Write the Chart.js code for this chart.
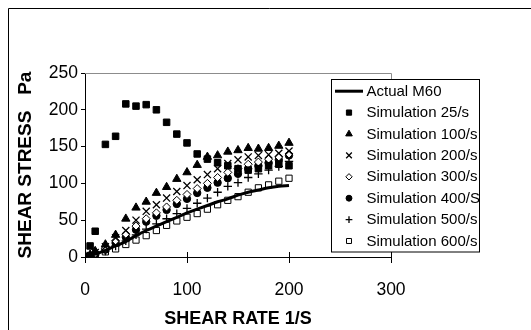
<!DOCTYPE html>
<html>
<head>
<meta charset="utf-8">
<script src="https://cdn.jsdelivr.net/npm/chart.js@4"></script>
<style>
  html, body { margin: 0; padding: 0; background: #fff; }
  #wrap { width: 531px; height: 330px; }
</style>
</head>
<body>
<div id="wrap"><canvas id="chart" width="531" height="330"></canvas></div>
<script>
// shear rate (1/s) sampled by every series
const shearRate = [0, 5, 10, 20, 30, 40, 50, 60, 70, 80, 90, 100, 110, 120, 130, 140, 150, 160, 170, 180, 190, 200];

// measured curve
const actualM60 = [0, 2, 4, 9, 15, 21, 29, 36, 42, 48, 54, 60, 65, 70, 75, 79, 84, 88, 91, 94, 96, 97];

// simulated shear stress (Pa)
const sim25 = [0, 15, 35, 153, 164, 208, 205, 207, 200, 183, 167, 155, 140, 133, 128, 124, 120, 118, 120, 124, 126, 124];
const sim100 = [0, 3, 8, 17, 30, 52, 67, 75, 87, 95, 106, 115, 125, 136, 138, 143, 145, 148, 147, 148, 151, 155];
const sim200 = [0, 2, 6, 14, 26, 36, 50, 62, 71, 80, 89, 97, 105, 112, 120, 127, 132, 136, 138, 139, 141, 144];
const sim300 = [0, 2, 5, 12, 22, 31, 42, 52, 60, 68, 77, 85, 93, 100, 108, 115, 120, 126, 129, 133, 136, 140];
const sim400 = [0, 2, 4, 10, 19, 27, 37, 48, 56, 64, 72, 79, 87, 94, 101, 107, 113, 120, 124, 128, 132, 138];
const sim500 = [0, 1, 3, 8, 15, 22, 30, 38, 45, 52, 59, 66, 73, 80, 88, 96, 101, 108, 113, 118, 123, 130];
const sim600 = [0, 1, 3, 7, 11, 17, 23, 29, 36, 43, 49, 54, 59, 65, 71, 77, 82, 88, 94, 98, 103, 107];

const xTicks = [0, 100, 200, 300];
const yTicks = [0, 50, 100, 150, 200, 250];

const FONT = "'Liberation Sans', Arial, sans-serif";

const toPoints = (ys) => ys.map((y, i) => ({ x: shearRate[i], y: y }));

function series(label, ys, style, radius, fill, lineW) {
    return {
        label: label,
        data: toPoints(ys),
        showLine: false,
        pointStyle: style,
        pointRadius: radius,
        pointBackgroundColor: fill,
        pointBorderColor: '#000',
        pointBorderWidth: lineW,
    };
}

const datasets = [
    {
        label: 'Actual M60',
        data: toPoints(actualM60),
        showLine: true,
        borderColor: '#000',
        borderWidth: 3,
        pointRadius: 0,
        cubicInterpolationMode: 'monotone',
        isLine: true,
    },
    series('Simulation 25/s', sim25, 'rect', 4.6, '#000', 1),
    series('Simulation 100/s', sim100, 'triangle', 4.8, '#000', 1),
    series('Simulation 200/s', sim200, 'crossRot', 5, '#000', 1.3),
    series('Simulation 300/s', sim300, 'rectRot', 4, '#fff', 1),
    series('Simulation 400/S', sim400, 'circle', 3.7, '#000', 1),
    series('Simulation 500/s', sim500, 'cross', 4.2, '#000', 1.3),
    series('Simulation 600/s', sim600, 'rect', 4.4, '#fff', 1),
];

// frame, plot border, inner x ticks and the boxed legend
const decor = {
    id: 'decor',
    afterDraw(chart) {
        const ctx = chart.ctx;
        const a = chart.chartArea;
        ctx.save();
        // outer frame (left and top only)
        ctx.strokeStyle = '#000';
        ctx.lineWidth = 1;
        ctx.beginPath();
        ctx.moveTo(8.5, 330);
        ctx.lineTo(8.5, 8.5);
        ctx.lineTo(531, 8.5);
        ctx.stroke();

        // gray top / right edges of plot area
        ctx.strokeStyle = '#8c8c8c';
        ctx.beginPath();
        ctx.moveTo(a.left, a.top + 0.5);
        ctx.lineTo(a.right + 0.5, a.top + 0.5);
        ctx.lineTo(a.right + 0.5, a.bottom);
        ctx.stroke();

        // x ticks crossing the axis
        ctx.strokeStyle = '#000';
        const xs = chart.scales.x;
        ctx.beginPath();
        xTicks.forEach(v => {
            const px = Math.round(xs.getPixelForValue(v)) + 0.5;
            ctx.moveTo(px, a.bottom);
            ctx.lineTo(px, a.bottom - 5);
        });
        ctx.stroke();

        // legend
        const lx = 331.5, ly = 79.5, lw = 148, lh = 172.5;
        ctx.fillStyle = '#fff';
        ctx.fillRect(lx, ly, lw, lh);
        ctx.strokeStyle = '#000';
        ctx.strokeRect(lx, ly, lw, lh);
        ctx.font = '15px ' + FONT;
        ctx.textBaseline = 'middle';
        ctx.textAlign = 'left';
        chart.data.datasets.forEach((ds, i) => {
            const cy = 91.2 + i * 21.4;
            if (ds.isLine) {
                ctx.strokeStyle = '#000';
                ctx.lineWidth = 3;
                ctx.beginPath();
                ctx.moveTo(335, cy);
                ctx.lineTo(363, cy);
                ctx.stroke();
            } else {
                ctx.fillStyle = ds.pointBackgroundColor;
                ctx.strokeStyle = '#000';
                ctx.lineWidth = ds.pointBorderWidth;
                Chart.helpers.drawPoint(ctx, {
                    pointStyle: ds.pointStyle,
                    radius: ds.pointRadius * 0.8,
                    rotation: 0,
                    borderWidth: ds.pointBorderWidth,
                }, 349, cy);
            }
            ctx.fillStyle = '#000';
            ctx.fillText(ds.label, 366.5, cy + 0.5);
        });
        ctx.restore();
    }
};

new Chart(document.getElementById('chart').getContext('2d'), {
    type: 'scatter',
    data: { datasets: datasets },
    plugins: [decor],
    options: {
        responsive: false,
        animation: false,
        events: [],
        layout: { padding: { left: 0, right: 140, top: 73, bottom: 0 } },
        plugins: {
            legend: { display: false },
            tooltip: { enabled: false },
        },
        scales: {
            x: {
                type: 'linear',
                min: 0,
                max: 300,
                afterBuildTicks: (s) => { s.ticks = xTicks.map(v => ({ value: v })); },
                afterFit: (s) => { s.height = 73; },
                ticks: { color: '#000', font: { family: FONT, size: 17.5 }, padding: 17, maxRotation: 0 },
                grid: { drawOnChartArea: false, tickLength: 6, color: '#000' },
                border: { color: '#000', width: 1 },
                title: {
                    display: true,
                    text: 'SHEAR RATE 1/S',
                    color: '#000',
                    font: { family: FONT, size: 18, weight: 'bold' },
                    padding: { top: 0, bottom: 0 },
                },
            },
            y: {
                min: 0,
                max: 250,
                afterBuildTicks: (s) => { s.ticks = yTicks.map(v => ({ value: v })); },
                afterFit: (s) => { s.width = 85; },
                ticks: { color: '#000', font: { family: FONT, size: 17.5 }, padding: 3 },
                grid: { drawOnChartArea: false, tickLength: 4, color: '#000' },
                border: { color: '#000', width: 1 },
                title: {
                    display: true,
                    text: 'SHEAR STRESS   Pa',
                    color: '#000',
                    font: { family: FONT, size: 19, weight: 'bold' },
                    padding: { top: 14, bottom: 0 },
                },
            },
        },
    },
});
</script>
</body>
</html>
